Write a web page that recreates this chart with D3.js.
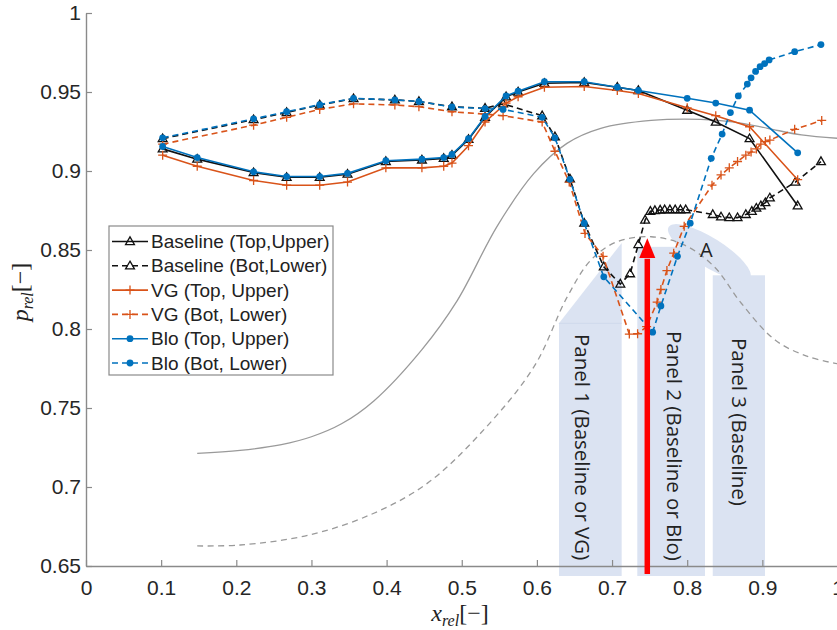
<!DOCTYPE html>
<html>
<head>
<meta charset="utf-8">
<script src="https://cdn.jsdelivr.net/npm/d3@7"></script>
<style>
  body { margin: 0; background: #fff; }
  svg { display: block; }
</style>
</head>
<body>
<svg id="chart" width="837" height="630"></svg>
<script>
// ---- Pressure distributions along the chord ----
const xTicks = [0, 0.1, 0.2, 0.3, 0.4, 0.5, 0.6, 0.7, 0.8, 0.9, 1];
const yTicks = [0.65, 0.7, 0.75, 0.8, 0.85, 0.9, 0.95, 1];

// Upper (top) surface: shared stations
const xTop   = [0.102,0.148,0.223,0.267,0.311,0.348,0.399,0.447,0.476,0.487,0.509,0.531,0.559,0.575,0.610,0.663,0.707,0.735,0.800,0.838,0.883,0.947];
const baseTop = [0.914,0.9075,0.899,0.896,0.896,0.898,0.906,0.907,0.908,0.910,0.920,0.934,0.947,0.950,0.9555,0.956,0.953,0.951,0.9385,0.931,0.9205,0.878];
const vgTop   = [0.910,0.903,0.894,0.891,0.891,0.893,0.902,0.902,0.903,0.905,0.916,0.931,0.943,0.947,0.953,0.9535,0.951,0.949,0.940,0.935,0.928,0.8945];
const bloTop  = [0.9155,0.9085,0.8995,0.8965,0.8965,0.8985,0.9065,0.9075,0.9085,0.9105,0.9205,0.9345,0.9475,0.9505,0.9565,0.9565,0.953,0.951,0.946,0.943,0.9385,0.9115];

// Lower (bottom) surface
const xBaseBot = [0.102,0.223,0.267,0.311,0.356,0.411,0.443,0.487,0.531,0.555,0.607,0.624,0.644,0.663,0.689,0.711,0.724,0.735,0.744,0.751,0.757,0.764,0.770,0.777,0.784,0.791,0.798,0.834,0.845,0.856,0.867,0.878,0.886,0.892,0.898,0.904,0.910,0.944,0.978];
const baseBot  = [0.9205,0.9325,0.937,0.9418,0.9458,0.945,0.944,0.9407,0.9397,0.9425,0.935,0.9217,0.895,0.867,0.8394,0.8285,0.835,0.8535,0.869,0.8745,0.875,0.8753,0.8755,0.8755,0.8755,0.8755,0.8755,0.8725,0.871,0.8705,0.8705,0.8725,0.8745,0.8765,0.878,0.880,0.883,0.893,0.906];

const xVgBot = [0.102,0.223,0.267,0.311,0.356,0.411,0.443,0.487,0.531,0.555,0.607,0.624,0.643,0.664,0.688,0.723,0.734,0.746,0.760,0.765,0.773,0.782,0.796,0.833,0.845,0.856,0.867,0.878,0.885,0.892,0.898,0.904,0.910,0.943,0.979];
const vgBot  = [0.917,0.929,0.934,0.939,0.9425,0.9418,0.9407,0.9375,0.936,0.935,0.931,0.9125,0.893,0.8605,0.846,0.7968,0.797,0.8015,0.817,0.825,0.837,0.848,0.865,0.891,0.8975,0.902,0.906,0.910,0.912,0.914,0.917,0.9186,0.9196,0.9264,0.932];

const xBloBot = [0.102,0.223,0.267,0.311,0.356,0.411,0.443,0.487,0.531,0.555,0.607,0.624,0.644,0.663,0.689,0.754,0.765,0.787,0.804,0.832,0.8465,0.8575,0.868,0.880,0.885,0.891,0.897,0.903,0.909,0.943,0.978];
const bloBot  = [0.921,0.933,0.9375,0.942,0.946,0.945,0.944,0.9405,0.9395,0.939,0.934,0.921,0.8947,0.867,0.833,0.798,0.8146,0.846,0.867,0.908,0.9234,0.937,0.9475,0.955,0.959,0.963,0.966,0.968,0.9703,0.9755,0.980];

// Reference contour curves (grey)
const xRefUpper = [0.148,0.205,0.26,0.30,0.34,0.383,0.447,0.494,0.547,0.596,0.640,0.685,0.752,0.818,0.863,0.907,0.952,1.0];
const refUpper  = [0.7213,0.7232,0.7268,0.7318,0.740,0.7545,0.787,0.818,0.865,0.8985,0.9175,0.927,0.932,0.9327,0.931,0.927,0.9228,0.9207];
const xRefLower = [0.148,0.205,0.297,0.383,0.454,0.525,0.596,0.640,0.672,0.707,0.752,0.796,0.836,0.872,0.917,0.961,1.0];
const refLower  = [0.6627,0.6633,0.6696,0.6834,0.7023,0.734,0.776,0.820,0.8437,0.8553,0.8584,0.8532,0.8394,0.8163,0.793,0.7825,0.778];

const legendLabels = [
  "Baseline (Top,Upper)", "Baseline (Bot,Lower)",
  "VG (Top, Upper)", "VG (Bot, Lower)",
  "Blo (Top, Upper)", "Blo (Bot, Lower)"
];
const panelLabels = ["Panel 1 (Baseline or VG)", "Panel 2 (Baseline or Blo)", "Panel 3 (Baseline)"];

// ---- Layout ----
const svg = d3.select("#chart");
const x = d3.scaleLinear().domain([0, 1]).range([86, 837.5]);
const y = d3.scaleLinear().domain([0.65, 1]).range([566, 13]);

const BLACK = "#111", ORANGE = "#D95319", BLUE = "#0072BD", GREY = "#9a9a9a";
const PANEL = "#dbe3f2";

const zip = (xs, ys) => xs.map((v, i) => [v, ys[i]]);

const series = [
  { pts: zip(xTop, baseTop),     color: BLACK,  dash: null,  marker: "tri"  },
  { pts: zip(xBaseBot, baseBot), color: BLACK,  dash: "6,4", marker: "tri"  },
  { pts: zip(xTop, vgTop),       color: ORANGE, dash: null,  marker: "plus" },
  { pts: zip(xVgBot, vgBot),     color: ORANGE, dash: "6,4", marker: "plus" },
  { pts: zip(xTop, bloTop),      color: BLUE,   dash: null,  marker: "dot"  },
  { pts: zip(xBloBot, bloBot),   color: BLUE,   dash: "6,4", marker: "dot"  }
];

// ---- Shaded panels (drawn beneath the curves) ----
const gAnn = svg.append("g");
const yBottom = 576;
// Panel 1: rectangle with a slanted cap
gAnn.append("path")
  .attr("d", `M${x(0.6294)},${yBottom}V${y(0.8036)}L${x(0.7128)},${y(0.8545)}V${yBottom}Z`)
  .attr("fill", PANEL);
gAnn.append("line")
  .attr("x1", x(0.6294)).attr("x2", x(0.7128))
  .attr("y1", y(0.8036)).attr("y2", y(0.8036))
  .attr("stroke", "#cfd9ec").attr("stroke-width", 1);
// Panel 2 and 3
gAnn.append("rect")
  .attr("x", x(0.7336)).attr("y", y(0.852))
  .attr("width", x(0.8237) - x(0.7336)).attr("height", yBottom - y(0.852))
  .attr("fill", PANEL);
gAnn.append("rect")
  .attr("x", x(0.834)).attr("y", y(0.834))
  .attr("width", x(0.9035) - x(0.834)).attr("height", yBottom - y(0.834))
  .attr("fill", PANEL);
// Region A
gAnn.append("ellipse")
  .attr("cx", 0).attr("cy", 0).attr("rx", 48).attr("ry", 14.5)
  .attr("transform", `translate(${x(0.8295)},${y(0.8485)}) rotate(32)`)
  .attr("fill", PANEL);

// ---- Grey contour curves ----
const lineSmooth = d3.line().x(d => x(d[0])).y(d => y(d[1])).curve(d3.curveCatmullRom.alpha(0.5));
svg.append("path").attr("d", lineSmooth(zip(xRefUpper, refUpper)))
  .attr("fill", "none").attr("stroke", GREY).attr("stroke-width", 1.3);
svg.append("path").attr("d", lineSmooth(zip(xRefLower, refLower)))
  .attr("fill", "none").attr("stroke", GREY).attr("stroke-width", 1.3)
  .attr("stroke-dasharray", "6,4.5");

// ---- Axes ----
const fmt = d3.format("~g");
const axisColor = "#8a8a8a";
const gx = svg.append("g").attr("transform", `translate(0,${y(0.65)})`)
  .call(d3.axisBottom(x).tickValues(xTicks).tickSize(-6).tickSizeOuter(0).tickPadding(14).tickFormat(fmt));
const gy = svg.append("g").attr("transform", `translate(${x(0)},0)`)
  .call(d3.axisLeft(y).tickValues(yTicks).tickSize(-6).tickSizeOuter(0).tickPadding(5).tickFormat(fmt));
[gx, gy].forEach(g => {
  g.select(".domain").attr("stroke", axisColor).attr("stroke-width", 1.4);
  g.selectAll(".tick line").attr("stroke", axisColor).attr("stroke-width", 1.2);
  g.selectAll(".tick text").attr("fill", "#262626")
    .style("font-family", "'Liberation Sans', Arial, sans-serif").style("font-size", "21px");
});

// ---- Data series ----
const line = d3.line().x(d => x(d[0])).y(d => y(d[1]));
const triPath = d3.symbol().type(d3.symbolTriangle).size(34)();

function drawMarker(g, type, color, cx, cy) {
  if (type === "tri") {
    g.append("path").attr("d", triPath).attr("transform", `translate(${cx},${cy + 0.5})`)
      .attr("fill", "none").attr("stroke", color).attr("stroke-width", 1.3);
  } else if (type === "plus") {
    g.append("path").attr("d", "M-4.5,0H4.5M0,-4.5V4.5").attr("transform", `translate(${cx},${cy})`)
      .attr("fill", "none").attr("stroke", color).attr("stroke-width", 1.3);
  } else {
    g.append("circle").attr("cx", cx).attr("cy", cy).attr("r", 3.4).attr("fill", color);
  }
}

series.forEach(s => {
  const g = svg.append("g");
  g.append("path").attr("d", line(s.pts))
    .attr("fill", "none").attr("stroke", s.color).attr("stroke-width", 1.6)
    .attr("stroke-dasharray", s.dash);
  s.pts.forEach(p => drawMarker(g, s.marker, s.color, x(p[0]), y(p[1])));
});

// ---- Panel labels, region label, arrow ----
const panelFont = "'Open Sans', 'Noto Sans', sans-serif";
const panelTextX = [x(0.6615), x(0.7835), x(0.870)];
const panelTextY = [334, 331, 338];
panelLabels.forEach((t, i) => {
  svg.append("text")
    .attr("transform", `translate(${panelTextX[i]},${panelTextY[i]}) rotate(90)`)
    .attr("dominant-baseline", "central")
    .style("font-family", panelFont).style("font-size", "20.5px")
    .attr("fill", "#222").text(t);
});
svg.append("text").attr("x", x(0.8255)).attr("y", y(0.8505))
  .attr("text-anchor", "middle").attr("dominant-baseline", "central")
  .style("font-family", panelFont).style("font-size", "20px").attr("fill", "#222").text("A");

const arrowX = x(0.7469);
svg.append("line").attr("x1", arrowX).attr("x2", arrowX)
  .attr("y1", 574).attr("y2", y(0.8445))
  .attr("stroke", "#ff0000").attr("stroke-width", 5.5);
svg.append("path")
  .attr("d", `M${arrowX},${y(0.8575)}L${arrowX + 8},${y(0.845)}L${arrowX - 8},${y(0.845)}Z`)
  .attr("fill", "#ff0000");

// ---- Legend ----
const leg = svg.append("g");
leg.append("rect").attr("x", 109).attr("y", 226).attr("width", 224).attr("height", 149)
  .attr("fill", "#fff").attr("stroke", "#8a8a8a").attr("stroke-width", 1.2);
legendLabels.forEach((lab, i) => {
  const s = series[i];
  const ry = 241.5 + i * 24.3;
  leg.append("line").attr("x1", 112).attr("x2", 148).attr("y1", ry).attr("y2", ry)
    .attr("stroke", s.color).attr("stroke-width", 1.6).attr("stroke-dasharray", s.dash);
  drawMarker(leg, s.marker, s.color, 130, ry);
  leg.append("text").attr("x", 151).attr("y", ry + 6.5)
    .style("font-family", "'Liberation Sans', Arial, sans-serif").style("font-size", "19px")
    .attr("fill", "#222").text(lab);
});

// ---- Axis titles ----
const mathFont = "'Liberation Serif', 'DejaVu Serif', serif";
const xt = svg.append("text").attr("x", 460).attr("y", 621).attr("text-anchor", "middle")
  .style("font-family", mathFont).style("font-size", "24px").attr("fill", "#222");
xt.append("tspan").style("font-style", "italic").text("x");
xt.append("tspan").style("font-style", "italic").style("font-size", "16px").attr("dy", 5).text("rel");
xt.append("tspan").attr("dy", -5).text("[−]");

const yt = svg.append("text").attr("transform", "translate(28,292) rotate(-90)").attr("text-anchor", "middle")
  .style("font-family", mathFont).style("font-size", "24px").attr("fill", "#222");
yt.append("tspan").style("font-style", "italic").text("p");
yt.append("tspan").style("font-style", "italic").style("font-size", "16px").attr("dy", 5).text("rel");
yt.append("tspan").attr("dy", -5).text("[−]");
</script>
</body>
</html>
